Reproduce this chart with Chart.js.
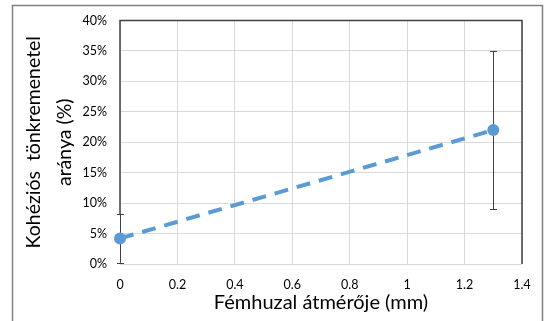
<!DOCTYPE html>
<html>
<head>
<meta charset="utf-8">
<script src="https://cdn.jsdelivr.net/npm/chart.js@4/dist/chart.umd.min.js"></script>
<style>
  html, body { margin: 0; padding: 0; background: #fff; }
  #wrap { width: 547px; height: 321px; position: relative; }
</style>
</head>
<body>
<div id="wrap"><canvas id="myChart" width="547" height="321"></canvas></div>
<script>
// adatok
const diameters = [0, 1.3];          // mm
const failureRates = [4.2, 22];      // %
const errorRates = [4, 13];          // +/- %
const xTicks = [0, 0.2, 0.4, 0.6, 0.8, 1, 1.2, 1.4];
const yTitle = ['Kohéziós  tönkremenetel', 'aránya (%)'];
const xTitle = 'Fémhuzal átmérője (mm)';

const blue = '#5B9BD5';
const gridColor = '#d9d9d9';

// hibasávok
const errorBars = {
  id: 'errorBars',
  beforeDatasetsDraw(chart) {
    const { ctx, scales: { x, y } } = chart;
    ctx.save();
    ctx.strokeStyle = '#404040';
    ctx.lineWidth = 1;
    diameters.forEach((d, i) => {
      const px = Math.round(x.getPixelForValue(d)) + 0.5;
      const top = y.getPixelForValue(failureRates[i] + errorRates[i]);
      const bot = y.getPixelForValue(failureRates[i] - errorRates[i]);
      ctx.beginPath();
      ctx.moveTo(px, top); ctx.lineTo(px, bot);
      ctx.moveTo(px - 3.5, Math.round(top) + 0.5); ctx.lineTo(px + 3.5, Math.round(top) + 0.5);
      ctx.moveTo(px - 3.5, Math.round(bot) + 0.5); ctx.lineTo(px + 3.5, Math.round(bot) + 0.5);
      ctx.stroke();
    });
    ctx.restore();
  }
};

// keretek: külső keret + diagramterület felső/bal/jobb széle
const frames = {
  id: 'frames',
  beforeDraw(chart) {
    const ctx = chart.ctx;
    ctx.save();
    ctx.fillStyle = '#fff';
    ctx.fillRect(0, 0, chart.width, chart.height);
    ctx.strokeStyle = '#808080';
    ctx.lineWidth = 1.5;
    ctx.beginPath();
    ctx.moveTo(12.5, 330); ctx.lineTo(12.5, 5.5); ctx.lineTo(542.5, 5.5); ctx.lineTo(542.5, 330);
    ctx.stroke();
    ctx.restore();
  },
  afterDraw(chart) {
    const { ctx, chartArea: a } = chart;
    ctx.save();
    ctx.strokeStyle = '#404040';
    ctx.lineWidth = 1.5;
    ctx.beginPath();
    ctx.moveTo(a.left, a.bottom - 50);
    ctx.lineTo(a.left, a.top);
    ctx.lineTo(a.right, a.top);
    ctx.lineTo(a.right, a.bottom);
    ctx.stroke();
    ctx.restore();
  }
};

const ctx = document.getElementById('myChart').getContext('2d');
const myChart = new Chart(ctx, {
  type: 'scatter',
  data: {
    datasets: [{
      data: diameters.map((d, i) => ({ x: d, y: failureRates[i] })),
      showLine: true,
      borderColor: blue,
      backgroundColor: blue,
      borderWidth: 4,
      borderDash: [14, 9],
      pointRadius: 6,
      pointHoverRadius: 6,
      pointBorderWidth: 0,
      clip: false
    }]
  },
  options: {
    responsive: false,
    animation: false,
    layout: { padding: { top: 17, right: 25, left: 19, bottom: 0 } },
    plugins: { legend: { display: false }, tooltip: { enabled: false } },
    scales: {
      x: {
        type: 'linear',
        min: 0, max: 1.4,
        afterBuildTicks(scale) { scale.ticks = xTicks.map(v => ({ value: v })); },
        afterFit(scale) { scale.height = 57; },
        grid: { color: gridColor, drawTicks: false },
        border: { display: false },
        ticks: {
          padding: 13,
          color: '#000',
          font: { family: 'Lato', size: 12.5 },
          callback: v => String(v)
        },
        title: {
          display: true,
          text: xTitle,
          color: '#000',
          font: { family: 'Lato', size: 20 },
          padding: { top: 0, bottom: 6 }
        }
      },
      y: {
        min: 0, max: 40,
        afterFit(scale) { scale.width = 101; },
        grid: { color: gridColor, drawTicks: false },
        border: { display: false },
        ticks: {
          stepSize: 5,
          padding: 13,
          color: '#000',
          font: { family: 'Lato', size: 12.5 },
          callback: v => v + '%'
        },
        title: {
          display: true,
          text: yTitle,
          color: '#000',
          font: { family: 'Lato', size: 19.5, lineHeight: 1.55 },
          padding: { top: 0, bottom: 10 }
        }
      }
    }
  },
  plugins: [frames, errorBars]
});
</script>
</body>
</html>
